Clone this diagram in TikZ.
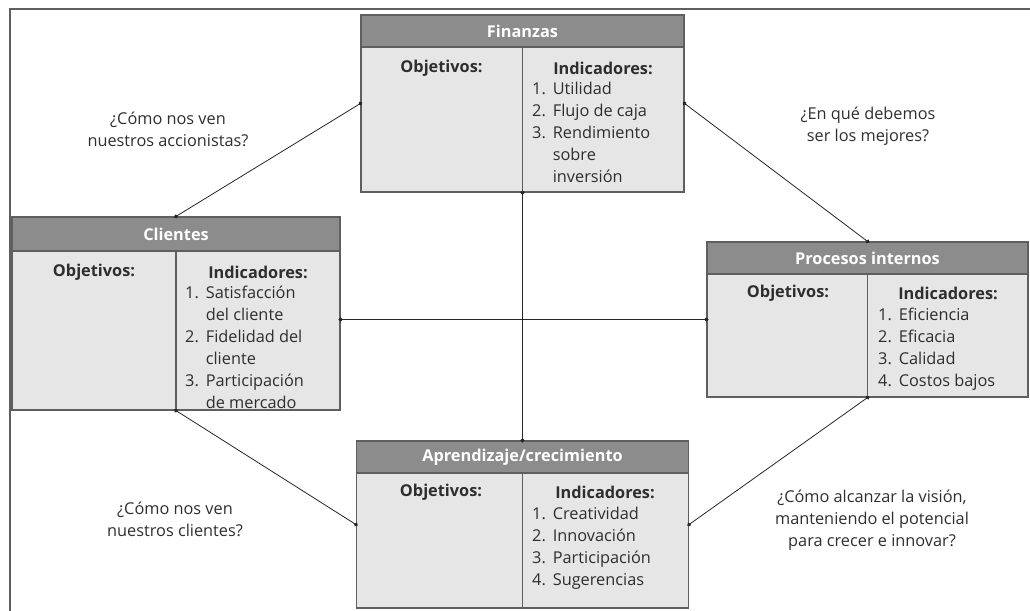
\documentclass[tikz,border=0pt]{standalone}
\usepackage{fontspec}
\setmainfont{Open Sans}
\usetikzlibrary{arrows.meta}

\definecolor{headgray}{HTML}{8C8C8C}
\definecolor{bodygray}{HTML}{E6E6E6}
\definecolor{linegray}{HTML}{5F5F5F}
\definecolor{textgray}{HTML}{2E2E2E}

\newcommand\bscfont{\fontsize{16.3}{22}\selectfont}

\tikzset{
  card/.style={draw=linegray, line width=1.2pt, fill=bodygray, inner sep=0pt},
  cardhead/.style={draw=linegray, line width=1.2pt, fill=headgray, text=white,
    font=\bscfont\bfseries, minimum height=32, inner sep=0pt},
  colhead/.style={text=textgray, font=\bscfont\bfseries, inner sep=0pt},
  itemlist/.style={text=textgray, font=\bscfont, inner sep=0pt, anchor=north west},
  question/.style={text=textgray, font=\bscfont, align=center, inner sep=0pt},
  link/.style={draw=black!85, line width=0.8pt,
    arrows={Circle[length=4pt]-Circle[length=4pt]}, shorten <=-2pt, shorten >=-2pt},
}

\begin{document}
\begin{tikzpicture}[x=1pt, y=-1pt]
    \useasboundingbox (0,0) rectangle (1030,610);

    % Frame
    \draw[linegray, line width=1.2pt] (1032,9) -- (10,9) -- (10,612);

    % Boxes
    \node[card, minimum width=323, minimum height=177] (fin) at (522.5,103.5) {};
    \node[card, minimum width=328, minimum height=193] (cli) at (176,313.5) {};
    \node[card, minimum width=321, minimum height=155] (pro) at (867.5,319.5) {};
    \node[card, minimum width=332, minimum height=167] (apr) at (522.5,524.5) {};

    % Headers
    \node[cardhead, minimum width=323, anchor=north] (finH) at (fin.north) {Finanzas};
    \node[cardhead, minimum width=328, minimum height=34, anchor=north] (cliH) at (cli.north) {Clientes};
    \node[cardhead, minimum width=321, anchor=north] (proH) at (pro.north) {Procesos internos};
    \node[cardhead, minimum width=332, anchor=north] (aprH) at (apr.north) {Aprendizaje/crecimiento};

    % Dividers
    \draw[linegray, line width=1.2pt] (finH.south) -- (fin.south);
    \draw[linegray, line width=1.2pt] (cliH.south) -- (cli.south);
    \draw[linegray, line width=1.2pt] (proH.south) -- (pro.south);
    \draw[linegray, line width=1.2pt] (aprH.south) -- (apr.south);

    % Finanzas
    \node[colhead] (finO) at (441.5,68) {Objetivos:};
    \node[colhead] (finI) at (603,68) {Indicadores:};
    \node[itemlist] (finL) at (532,78.5) {\begin{tabular}{@{}l@{\hspace{7pt}}l@{}}
      1. & Utilidad\\ 2. & Flujo de caja\\ 3. & Rendimiento\\ & sobre\\ & inversión
    \end{tabular}};

    % Clientes
    \node[colhead] (cliO) at (94,272) {Objetivos:};
    \node[colhead] (cliI) at (258,272) {Indicadores:};
    \node[itemlist] (cliL) at (185,282.5) {\begin{tabular}{@{}l@{\hspace{7pt}}l@{}}
      1. & Satisfacción\\ & del cliente\\ 2. & Fidelidad del\\ & cliente\\
      3. & Participación\\ & de mercado
    \end{tabular}};

    % Procesos internos
    \node[colhead] (proO) at (788,293) {Objetivos:};
    \node[colhead] (proI) at (948,293) {Indicadores:};
    \node[itemlist] (proL) at (878,304.5) {\begin{tabular}{@{}l@{\hspace{7pt}}l@{}}
      1. & Eficiencia\\ 2. & Eficacia\\ 3. & Calidad\\ 4. & Costos bajos
    \end{tabular}};

    % Aprendizaje/crecimiento
    \node[colhead] (aprO) at (441,492) {Objetivos:};
    \node[colhead] (aprI) at (605,492) {Indicadores:};
    \node[itemlist] (aprL) at (532,503.5) {\begin{tabular}{@{}l@{\hspace{7pt}}l@{}}
      1. & Creatividad\\ 2. & Innovación\\ 3. & Participación\\ 4. & Sugerencias
    \end{tabular}};

    % Questions
    \node[question] (qShare) at (168,129) {¿Cómo nos ven\\nuestros accionistas?};
    \node[question] (qBest) at (868,126) {¿En qué debemos\\ser los mejores?};
    \node[question] (qClient) at (175,519) {¿Cómo nos ven\\nuestros clientes?};
    \node[question] (qVision) at (872,520) {¿Cómo alcanzar la visión,\\manteniendo el potencial\\para crecer e innovar?};

    % Links
    \draw[link] (fin.west) -- (cli.north);
    \draw[link] (fin.east) -- (pro.north);
    \draw[link] (fin.south) -- (apr.north);
    \draw[link] (cli.east |- pro.west) -- (pro.west);
    \draw[link] (cli.south) -- (apr.west);
    \draw[link] (pro.south) -- (apr.east);
\end{tikzpicture}
\end{document}
